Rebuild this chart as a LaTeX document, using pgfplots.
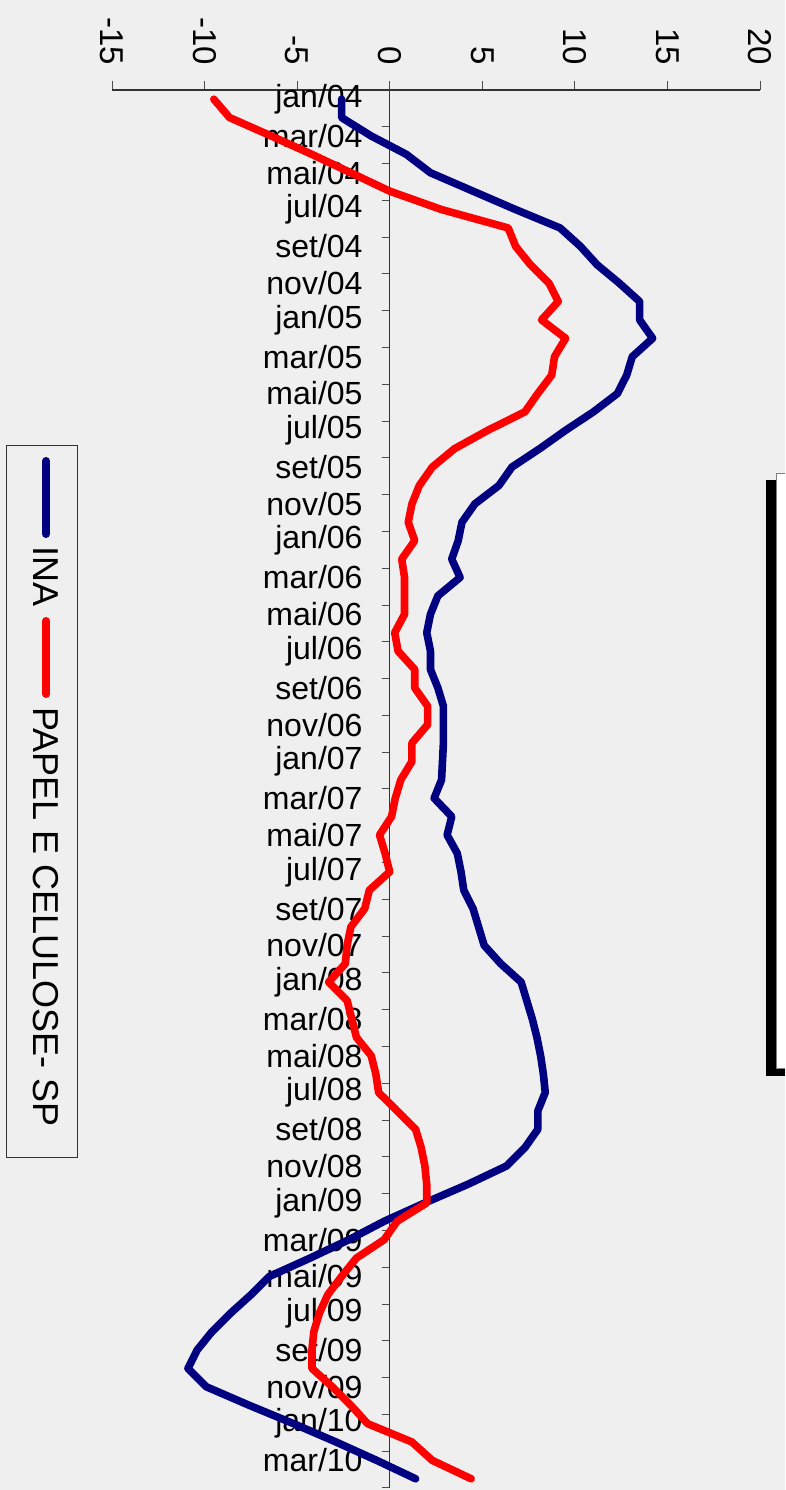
\documentclass[border=0pt]{standalone}
\usepackage{pgfplots}
\pgfplotsset{compat=1.18}
\usepackage{pgfplotstable}
\usepackage{fontspec}
\setmainfont{Liberation Sans}
\definecolor{inablue}{HTML}{000080}
\definecolor{papred}{HTML}{FF0000}
\definecolor{bg}{HTML}{EFEFEF}

% i = month index (0 = jan/04 ... 75 = abr/10)
\pgfplotstableread{
i ina papel
0 -2.6 -9.5
1 -2.6 -8.65
2 -1.0 -6.4
3 0.9 -4.2
4 2.2 -2.1
5 4.5 0.0
6 6.8 2.8
7 9.2 6.4
8 10.3 6.8
9 11.2 7.6
10 12.4 8.6
11 13.5 9.1
12 13.5 8.2
13 14.2 9.5
14 13.1 8.9
15 12.8 8.75
16 12.3 8.0
17 11.0 7.3
18 9.5 5.3
19 8.1 3.5
20 6.6 2.3
21 5.9 1.6
22 4.6 1.2
23 3.9 1.0
24 3.7 1.35
25 3.35 0.65
26 3.8 0.8
27 2.6 0.8
28 2.2 0.8
29 2.0 0.27
30 2.2 0.45
31 2.2 1.35
32 2.6 1.35
33 2.9 2.05
34 2.9 2.05
35 2.9 1.2
36 2.85 1.2
37 2.8 0.6
38 2.4 0.3
39 3.35 0.1
40 3.1 -0.55
41 3.65 -0.25
42 3.85 0.0
43 4.0 -1.1
44 4.5 -1.35
45 4.8 -2.1
46 5.1 -2.3
47 6.0 -2.4
48 7.1 -3.3
49 7.4 -2.3
50 7.7 -2.05
51 7.95 -1.8
52 8.15 -1.0
53 8.3 -0.75
54 8.4 -0.6
55 8.0 0.4
56 8.0 1.4
57 7.3 1.7
58 6.3 1.9
59 4.2 2.0
60 1.9 2.0
61 -0.3 0.4
62 -2.2 -0.3
63 -4.3 -1.8
64 -6.5 -2.6
65 -7.5 -3.35
66 -8.6 -3.8
67 -9.6 -4.1
68 -10.4 -4.2
69 -10.9 -4.2
70 -9.9 -3.1
71 -7.6 -2.1
72 -5.2 -1.2
73 -2.9 1.2
74 -0.7 2.3
75 1.4 4.4
}\datatable

\begin{document}
\begin{tikzpicture}
\begin{scope}[x=1pt,y=-1pt]
\useasboundingbox (0,0) rectangle (785,1490);
\fill[bg] (0,0) rectangle (785,1490);
% empty title box on the right edge
\fill[black] (766,480) rectangle (785,1076);
\fill[white] (776,473) rectangle (785,1068);
\draw[black!50, line width=0.8pt] (785,473) -- (776,473) -- (776,1068) -- (785,1068);
\end{scope}

\begin{axis}[
    at={(112pt,-90pt)}, anchor=north west,
    scale only axis, width=648pt, height=1398pt,
    xmin=-15, xmax=20, ymin=-75.5, ymax=0.5,
    axis x line=top, axis y line=center,
    axis line style={-, line width=1.1pt, color=black!80},
    xtick={-15,-10,...,20},
    xticklabels={-15,-10,-5,0,5,10,15,20},
    xtick align=outside,
    major tick length=9pt, minor tick length=8pt,
    tick style={line width=1pt, color=black!70},
    xticklabel style={font=\fontsize{33}{33}\selectfont, yshift=16pt,
        rotate=-90, anchor=east, inner sep=0pt},
    ytick={-74,-72,...,0},
    yticklabels={mar/10,jan/10,nov/09,set/09,jul/09,mai/09,mar/09,jan/09,
        nov/08,set/08,jul/08,mai/08,mar/08,jan/08,nov/07,set/07,jul/07,mai/07,
        mar/07,jan/07,nov/06,set/06,jul/06,mai/06,mar/06,jan/06,nov/05,set/05,
        jul/05,mai/05,mar/05,jan/05,nov/04,set/04,jul/04,mai/04,mar/04,jan/04},
    minor ytick={-75.5,-73.5,...,0.5},
    major y tick style={draw=none},
    ytick align=outside,
    yticklabel style={font=\fontsize{32}{32}\selectfont, anchor=east,
        inner sep=0pt, xshift=-18pt},
    clip=false,
]
\addplot[inablue, line width=7.6pt, line join=round, line cap=round]
    table[x=ina, y expr=-\thisrow{i}] {\datatable};
\addplot[papred, line width=7.6pt, line join=round, line cap=round]
    table[x=papel, y expr=-\thisrow{i}] {\datatable};
\end{axis}

\begin{scope}[x=1pt,y=-1pt]
% legend, turned like the whole chart
\draw[black!80, line width=1pt] (6,445) rectangle (77,1157);
\draw[inablue, line width=8pt, line cap=round] (46,461) -- (46,534);
\draw[papred, line width=8pt, line cap=round] (46,621) -- (46,694);
\node[rotate=-90, anchor=base west, inner sep=0pt,
    font=\fontsize{36}{36}\selectfont] at (33,546) {INA};
\node[rotate=-90, anchor=base west, inner sep=0pt,
    font=\fontsize{36}{36}\selectfont] at (33,707) {PAPEL E CELULOSE- SP};
\end{scope}
\end{tikzpicture}
\end{document}
